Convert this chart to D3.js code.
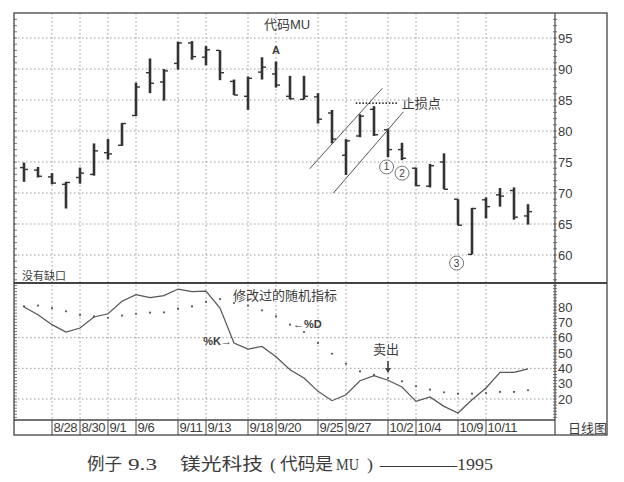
<!DOCTYPE html>
<html><head><meta charset="utf-8">
<script src="https://cdn.jsdelivr.net/npm/d3@7"></script>
<style>
html,body{margin:0;padding:0;background:#fff;}
svg{display:block;}
text{font-family:"Liberation Sans",Arial,"Noto Sans CJK SC",sans-serif;fill:#3c3c3c;}
</style></head>
<body>
<script>
// ---- data ----
const dates = ["8/24","8/25","8/28","8/29","8/30","8/31","9/1","9/5","9/6","9/7","9/8","9/11","9/12","9/13","9/14","9/15","9/18","9/19","9/20","9/21","9/22","9/25","9/26","9/27","9/28","9/29","10/2","10/3","10/4","10/5","10/6","10/9","10/10","10/11","10/12","10/13","10/16"];
const open  = [74.1,73.7,72.6,71.4,72.5,73.0,76.5,77.7,82.5,89.4,87.9,90.9,94.2,91.9,93.0,88.0,85.6,89.5,89.2,85.6,85.1,85.5,82.9,76.1,79.2,83.5,80.2,77.0,74.0,71.1,75.0,69.0,60.1,68.9,69.7,70.4,66.3];
const high  = [74.9,74.2,73.2,71.8,74.1,78.0,78.7,81.3,87.8,91.7,90.0,94.4,94.5,93.7,93.0,88.3,88.8,91.9,91.2,88.9,88.9,86.1,83.4,78.7,82.7,84.0,80.4,78.1,74.1,74.7,76.4,69.0,67.6,69.3,70.8,70.9,68.2];
const low   = [71.8,72.5,71.4,67.5,71.5,72.8,75.4,77.6,82.4,86.1,84.9,89.9,91.5,90.6,88.2,85.8,83.4,88.3,87.0,85.1,85.1,81.2,78.0,72.9,79.0,79.2,75.8,75.3,71.1,70.9,70.6,64.8,60.1,65.9,67.8,65.7,64.9];
const close = [73.8,72.7,71.6,71.7,73.2,76.8,76.3,81.2,87.1,87.7,89.7,94.2,92.0,93.1,89.4,85.8,88.5,90.3,87.4,85.2,85.6,81.9,78.7,78.4,82.4,79.4,77.0,75.6,71.2,74.4,70.6,64.8,67.5,67.8,69.5,66.1,67.0];
const pctK  = [80,75,68.5,63.7,66.3,73.5,75.6,83.7,88.0,86.1,87.4,91.7,90.0,90.4,79.3,56.5,52.6,54.3,47.5,39.1,33.7,25,18.9,22.8,31.9,35.2,32.2,27.8,18.5,21.3,15.2,10.9,19.5,27.2,37.4,37.4,39.6];
const pctD  = [80.4,80.9,79.3,77.2,74.8,73.9,73.0,74.4,75.6,76.3,76.5,78.9,80.4,83.3,85.2,82.6,80.9,77.8,73.9,68.5,63.7,56.5,49.5,43,38,35.8,33.7,31.5,28.3,26.1,24.4,23.5,23.5,23.9,24.6,24.6,25.7];
const dateTicks  = ["8/28","8/30","9/1","9/6","9/11","9/13","9/18","9/20","9/25","9/27","10/2","10/4","10/9","10/11"];
const priceTicks = [60,65,70,75,80,85,90,95];
const stochTicks = [20,30,40,50,60,70,80];
const stochGrid  = [20,40,60];
// annotations (index, price)
const channelUpper = [[20.4,73.9],[25.6,86.9]];
const channelLower = [[22.1,70.0],[27.1,83.1]];
const stopLine = [[23.7,84.5],[26.7,84.5]];
const circles = [{t:"1",i:25.9,p:74.2},{t:"2",i:27.0,p:73.2},{t:"3",i:30.9,p:58.7}];
const captionParts = ["例子","9.3","镁光科技","(","代码是","MU",")","——","1995"];

// ---- layout ----
const W=624,H=482;
const L=14,R=607,AX=555,T=13,MID=283,B2=420,B3=435;
const svg=d3.select("body").append("svg").attr("width",W).attr("height",H);

const x=d3.scaleLinear().domain([0,dates.length-1]).range([24,528]);
const y=d3.scaleLinear().domain([60,95]).range([255,38]);
const y2=d3.scaleLinear().domain([20,80]).range([399,307]);
const xd=d=>x(dates.indexOf(d));

const grid=svg.append("g").attr("stroke","#9a9a9a").attr("stroke-width",1).attr("stroke-dasharray","1.5,2.5");
grid.selectAll(".hp").data(priceTicks).join("line")
  .attr("x1",L).attr("x2",AX).attr("y1",d=>y(d)).attr("y2",d=>y(d));
grid.selectAll(".hs").data(stochGrid).join("line").attr("class","hs")
  .attr("x1",L).attr("x2",AX).attr("y1",d=>y2(d)).attr("y2",d=>y2(d));
grid.selectAll(".v").data(dateTicks).join("line").attr("class","v")
  .attr("x1",xd).attr("x2",xd).attr("y1",T).attr("y2",B2);

// frames
const fr=svg.append("g").attr("stroke","#444").attr("fill","none");
fr.append("rect").attr("x",L).attr("y",T).attr("width",R-L).attr("height",B3-T).attr("stroke-width",1.3);
fr.append("line").attr("x1",L).attr("x2",R).attr("y1",MID).attr("y2",MID).attr("stroke-width",2.2);
fr.append("line").attr("x1",L).attr("x2",AX).attr("y1",B2).attr("y2",B2).attr("stroke-width",1.3);
fr.append("line").attr("x1",AX).attr("x2",AX).attr("y1",T).attr("y2",B3).attr("stroke-width",1.2);
fr.selectAll(".sep").data(dateTicks).join("line").attr("class","sep")
  .attr("x1",xd).attr("x2",xd).attr("y1",B2).attr("y2",B3).attr("stroke-width",1);

// right axes
const ay=d3.axisRight(y).tickValues(priceTicks).tickSize(0).tickPadding(3);
const gA=svg.append("g").attr("transform",`translate(${AX},0)`).call(ay);
gA.select(".domain").remove();
gA.selectAll("text").style("font-size","13px").attr("fill","#3c3c3c").style("font-family","Liberation Sans, Arial");
const ay2=d3.axisRight(y2).tickValues(stochTicks).tickSize(0).tickPadding(3);
const gB=svg.append("g").attr("transform",`translate(${AX},0)`).call(ay2);
gB.select(".domain").remove();
gB.selectAll("text").style("font-size","13px").attr("fill","#3c3c3c").style("font-family","Liberation Sans, Arial");
const minorP=d3.range(56,99,1), minorS=d3.range(8,96,2);
const mt=svg.append("g").attr("stroke","#555").attr("stroke-width",0.8);
mt.selectAll(".a").data(minorP).join("line").attr("x1",AX-2).attr("x2",AX+2).attr("y1",d=>y(d)).attr("y2",d=>y(d));
mt.selectAll(".b").data(minorP).join("line").attr("class","b").attr("x1",L).attr("x2",L+3).attr("y1",d=>y(d)).attr("y2",d=>y(d));
mt.selectAll(".c").data(minorS).join("line").attr("class","c").attr("x1",AX-2).attr("x2",AX+2).attr("y1",d=>y2(d)).attr("y2",d=>y2(d));
mt.selectAll(".d").data(minorS).join("line").attr("class","d").attr("x1",L).attr("x2",L+3).attr("y1",d=>y2(d)).attr("y2",d=>y2(d));

// x labels
svg.append("g").selectAll("text").data(dateTicks).join("text")
  .attr("x",d=>xd(d)+1.5).attr("y",432).text(d=>d)
  .style("font-size","13px").style("letter-spacing","-0.4px");
svg.append("text").attr("x",568).attr("y",433).text("日线图").style("font-size","13px")
  .style("font-family","Noto Sans CJK SC");

// OHLC bars
const bars=svg.append("g").attr("stroke","#333");
dates.forEach((d,i)=>{
  const g=bars.append("g");
  g.append("line").attr("x1",x(i)).attr("x2",x(i)).attr("y1",y(high[i])).attr("y2",y(low[i])).attr("stroke-width",2.6);
  g.append("line").attr("x1",x(i)-4).attr("x2",x(i)).attr("y1",y(open[i])).attr("y2",y(open[i])).attr("stroke-width",1.4);
  g.append("line").attr("x1",x(i)).attr("x2",x(i)+4).attr("y1",y(close[i])).attr("y2",y(close[i])).attr("stroke-width",1.4);
});

// channel & stop line
const ln=d3.line().x(d=>x(d[0])).y(d=>y(d[1]));
svg.append("path").attr("d",ln(channelUpper)).attr("stroke","#555").attr("stroke-width",1).attr("fill","none");
svg.append("path").attr("d",ln(channelLower)).attr("stroke","#555").attr("stroke-width",1).attr("fill","none");
svg.append("path").attr("d",ln(stopLine)).attr("stroke","#333").attr("stroke-width",1.6).attr("stroke-dasharray","1.5,1.8").attr("fill","none");
svg.append("text").attr("x",x(stopLine[1][0])+4).attr("y",y(stopLine[1][1])+4.5).text("止损点")
  .style("font-size","13px").style("font-family","Noto Sans CJK SC");

// circles
const cg=svg.append("g").selectAll("g").data(circles).join("g")
  .attr("transform",d=>`translate(${x(d.i)},${y(d.p)})`);
cg.append("circle").attr("r",7).attr("fill","#fff").attr("stroke","#777").attr("stroke-width",1);
cg.append("text").attr("text-anchor","middle").attr("y",3.5).text(d=>d.t).style("font-size","10px").attr("fill","#555");

// top texts
svg.append("text").attr("x",287).attr("y",29).attr("text-anchor","middle").text("代码MU")
  .style("font-size","13px").attr("fill","#505050");
svg.append("text").attr("x",x(18)).attr("y",y(93.1)+4).attr("text-anchor","middle").text("A")
  .style("font-size","11px").style("font-weight","bold").attr("fill","#444");
svg.append("text").attr("x",22).attr("y",280).text("没有缺口").style("font-size","11px")
  .style("font-family","Noto Sans CJK SC");

// stochastic
const kl=d3.line().x((d,i)=>x(i)).y(d=>y2(d));
svg.append("path").attr("d",kl(pctK)).attr("fill","none").attr("stroke","#555").attr("stroke-width",1.2);
svg.append("g").selectAll("circle").data(pctD).join("circle")
  .attr("cx",(d,i)=>x(i)).attr("cy",d=>y2(d)).attr("r",1.1).attr("fill","#555");

svg.append("text").attr("x",233).attr("y",300).text("修改过的随机指标").style("font-size","13px")
  .style("font-family","Noto Sans CJK SC");
svg.append("text").attr("x",x(15)-2).attr("y",y2(pctK[15])+2).attr("text-anchor","end").text("%K→")
  .style("font-size","11px").style("font-weight","bold").attr("fill","#444");
svg.append("text").attr("x",x(19)+3).attr("y",y2(pctD[19])+3).text("←%D")
  .style("font-size","11px").style("font-weight","bold").attr("fill","#444");
svg.append("text").attr("x",x(26)-2).attr("y",354).attr("text-anchor","middle").text("卖出")
  .style("font-size","13px").style("font-family","Noto Sans CJK SC");
svg.append("line").attr("x1",x(26)).attr("x2",x(26)).attr("y1",361).attr("y2",372).attr("stroke","#444").attr("stroke-width",1.6);
svg.append("path").attr("d",`M${x(26)-3},368 L${x(26)},373 L${x(26)+3},368 Z`).attr("fill","#444");

// caption (each piece fitted to its span in the reference)
const capX=[87,128,180,270,280,336,367,380,457];
const capW=[35,29,83,6,53,23,6,77,36];
svg.append("g").selectAll("text").data(captionParts).join("text")
  .attr("x",(d,i)=>capX[i]).attr("y",470).text(d=>d)
  .attr("textLength",(d,i)=>capW[i]).attr("lengthAdjust","spacingAndGlyphs")
  .style("font-size","17px").style("font-family","Liberation Serif, Noto Sans CJK SC")
  .attr("fill","#555");
</script>
</body></html>
